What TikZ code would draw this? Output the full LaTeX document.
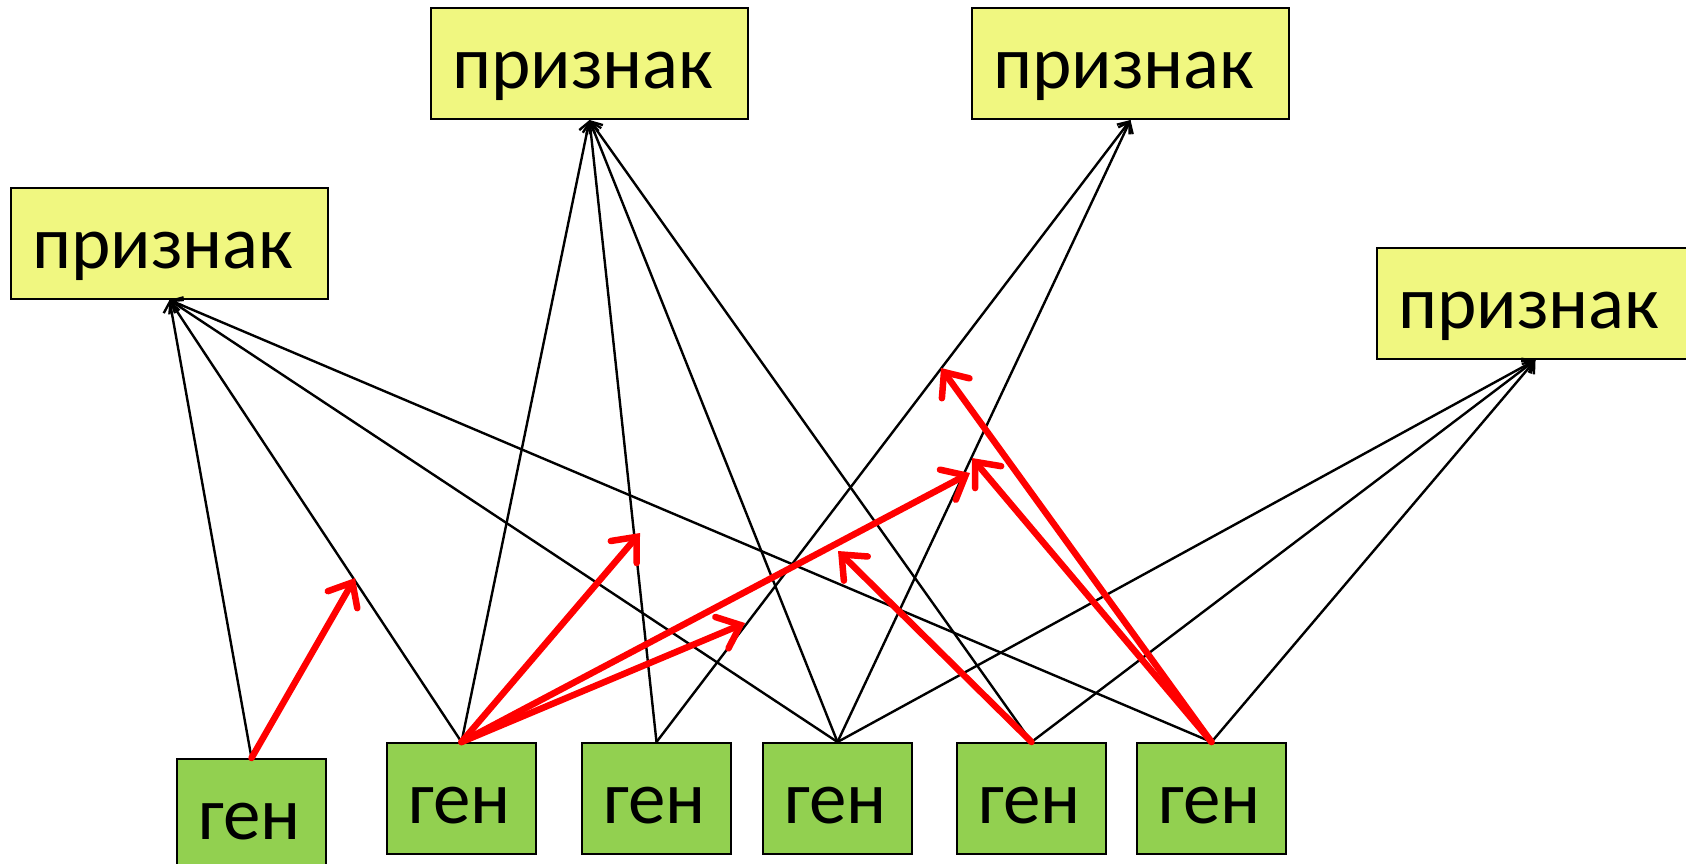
\documentclass[tikz,border=0pt]{standalone}
\usepackage{fontspec}
\setmainfont{Carlito}
\usetikzlibrary{arrows.meta}
\definecolor{featfill}{RGB}{240,247,128}
\definecolor{genefill}{RGB}{146,208,80}
\begin{document}
\begin{tikzpicture}[x=1pt,y=-1pt,
  box/.style={draw=black, line width=2pt, anchor=north west, inner xsep=21pt,
    inner ysep=0pt, text height=80pt, text depth=31pt, align=left,
    font=\fontsize{75}{90}\selectfont},
  featbox/.style={box, fill=featfill, text width=275pt},
  genebox/.style={box, fill=genefill, text width=107pt},
  link/.style={line width=2.4pt, -{Straight Barb[length=10pt,width=16pt]}},
  flow/.style={red, line width=6.5pt, line cap=round,
    -{Straight Barb[length=20pt,width=34pt,line cap=round]}}
]
\useasboundingbox (0,0) rectangle (1686,863);
\begin{scope}
\clip (0,0) rectangle (1686,863);

% traits
\node[featbox] (f1) at (10,187) {признак};
\node[featbox] (f2) at (430,7) {признак};
\node[featbox] (f3) at (971,7) {признак};
\node[featbox] (f4) at (1376,247) {признак};

% genes
\node[genebox] (g1) at (176,758) {ген};
\node[genebox] (g2) at (386,742) {ген};
\node[genebox] (g3) at (581,742) {ген};
\node[genebox] (g4) at (762,742) {ген};
\node[genebox] (g5) at (956,742) {ген};
\node[genebox] (g6) at (1136,742) {ген};

% gene -> trait links
\foreach \g in {g1,g2,g4,g6} \draw[link] (\g.north) -- (f1.south);
\foreach \g in {g2,g3,g4,g5} \draw[link] (\g.north) -- (f2.south);
\foreach \g in {g3,g4} \draw[link] (\g.north) -- (f3.south);
\foreach \g in {g4,g5,g6} \draw[link] (\g.north) -- (f4.south);

% red flow arrows
\coordinate (r1) at (355,578);
\coordinate (r2) at (640,533);
\coordinate (r3) at (745,623);
\coordinate (r4) at (970,473);
\coordinate (r5) at (838,551);
\coordinate (r6) at (972,458);
\coordinate (r7) at (941,368);
\draw[flow] (g1.north) -- (r1);
\draw[flow] (g2.north) -- (r2);
\draw[flow] (g2.north) -- (r3);
\draw[flow] (g2.north) -- (r4);
\draw[flow] (g5.north) -- (r5);
\draw[flow] (g6.north) -- (r6);
\draw[flow] (g6.north) -- (r7);
\end{scope}
\end{tikzpicture}
\end{document}
